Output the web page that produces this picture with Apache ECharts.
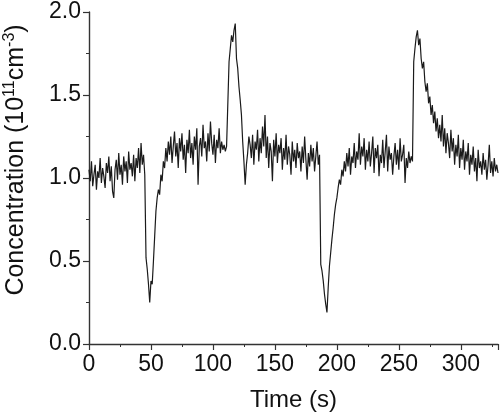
<!DOCTYPE html>
<html>
<head>
<meta charset="utf-8">
<script src="https://cdn.jsdelivr.net/npm/echarts@6/dist/echarts.min.js"></script>
<style>html,body{margin:0;padding:0;background:#fff}#c{width:500px;height:414px}</style>
</head>
<body>
<div id="c"></div>
<script>
// Sample interval of the trace (s)
var sampleStep = 1;
// Concentration (1e11 cm^-3), one value per second from t = 0 to 330 s
var concentration = [
  1.05, 0.98, 1.10, 0.95, 1.02, 1.08, 0.93, 1.04, 1.00, 1.12,
  0.97, 1.06, 1.01, 0.94, 1.09, 1.03, 1.13, 0.98, 1.07, 0.92,
  0.88, 1.05, 1.11, 0.99, 1.15, 1.02, 1.08, 0.96, 1.13, 1.04,
  1.10, 0.97, 1.16, 1.05, 1.09, 1.01, 1.14, 0.98, 1.12, 1.06,
  1.18, 1.03, 1.21, 1.08, 1.14, 1.02, 0.52, 0.45, 0.36, 0.25,
  0.38, 0.36, 0.50, 0.65, 0.80, 0.88, 0.93, 0.90, 1.02, 0.98,
  1.10, 1.06, 1.18, 1.10, 1.22, 1.14, 1.25, 1.09, 1.19, 1.28,
  1.13, 1.21, 1.06, 1.24, 1.16, 1.27, 1.11, 1.20, 1.03, 1.23,
  1.15, 1.29, 1.12, 1.21, 1.08, 1.25, 1.17, 1.30, 0.96, 1.19,
  1.24, 1.13, 1.32, 1.18, 1.22, 1.10, 1.27, 1.16, 1.34, 1.21,
  1.14, 1.26, 1.09, 1.23, 1.18, 1.30, 1.15, 1.22, 1.17, 1.20,
  1.16, 1.19, 1.18, 1.70, 1.78, 1.86, 1.82, 1.89, 1.93, 1.72,
  1.66, 1.55, 1.47, 1.38, 1.22, 1.10, 0.96, 1.08, 1.15, 1.25,
  1.20, 1.12, 1.26, 1.08, 1.22, 1.17, 1.29, 1.10, 1.24, 1.15,
  1.31, 1.19, 1.38, 1.12, 1.25, 1.06, 1.21, 1.16, 0.98, 1.23,
  1.13, 1.27, 1.09, 1.20, 1.15, 1.24, 1.05, 1.18, 1.11, 1.26,
  1.08, 1.19, 1.14, 1.02, 1.22, 1.10, 1.17, 1.06, 1.21, 1.12,
  1.16, 1.04, 1.19, 1.09, 1.25, 1.11, 0.99, 1.15, 1.07, 1.20,
  1.10, 1.18, 1.04, 1.13, 1.22, 1.08, 1.14, 0.48, 0.44, 0.38,
  0.30, 0.24, 0.19, 0.34, 0.47, 0.55, 0.63, 0.70, 0.78, 0.84,
  0.88, 0.94, 0.99, 0.96, 1.05, 1.01, 1.10, 1.04, 1.15, 1.07,
  1.18, 1.02, 1.13, 1.09, 1.21, 1.06, 1.16, 1.11, 1.27, 1.08,
  1.19, 1.13, 1.24, 1.05, 1.17, 1.10, 1.22, 1.07, 1.15, 1.25,
  1.03, 1.18, 1.12, 1.20, 1.01, 1.14, 1.09, 1.23, 1.06, 1.16,
  1.26, 1.04, 1.19, 1.11, 1.15, 1.02, 1.13, 1.21, 1.08, 1.17,
  1.05, 1.24, 1.10, 1.14, 1.20, 0.97, 1.12, 1.06, 1.16, 1.09,
  1.13, 1.10, 1.70, 1.78, 1.85, 1.89, 1.80, 1.84, 1.72, 1.66,
  1.70, 1.58, 1.52, 1.57, 1.45, 1.49, 1.38, 1.44, 1.33, 1.40,
  1.28, 1.36, 1.24, 1.32, 1.22, 1.38, 1.19, 1.30, 1.15, 1.27,
  1.21, 1.12, 1.29, 1.16, 1.24, 1.08, 1.20, 1.13, 1.26, 1.06,
  1.18, 1.11, 1.23, 1.05, 1.16, 1.10, 1.21, 1.02, 1.14, 1.08,
  1.19, 1.04, 1.12, 0.98, 1.17, 1.06, 1.10, 1.02, 1.15, 1.05,
  1.11, 0.99, 1.08, 1.20, 1.03, 1.10, 1.01, 1.12, 1.04, 1.08,
  1.03
];
var xTicks = [0, 50, 100, 150, 200, 250, 300];
var yTicks = [0.0, 0.5, 1.0, 1.5, 2.0];

var seriesData = concentration.map(function (v, i) { return [i * sampleStep, v]; });

var chart = echarts.init(document.getElementById('c'), null, {renderer: 'canvas'});
var font = 'Liberation Sans, Arial, sans-serif';
chart.setOption({
  animation: false,
  backgroundColor: '#fff',
  grid: {left: 89, right: 2, top: 12, bottom: 70, containLabel: false, outerBoundsMode: 'none'},
  xAxis: {
    type: 'value', min: 0, max: 330, interval: 50,
    name: 'Time (s)', nameLocation: 'middle', nameGap: 44,
    nameTextStyle: {fontFamily: font, fontSize: 24, color: '#111'},
    axisLine: {show: true, lineStyle: {color: '#333', width: 1.4}},
    axisTick: {show: true, inside: false, length: 6, lineStyle: {color: '#333', width: 1.2}},
    minorTick: {show: true, splitNumber: 2, length: 3, lineStyle: {color: '#333', width: 1}},
    splitLine: {show: false},
    axisLabel: {
      fontFamily: font, fontSize: 23, color: '#111', margin: 9,
      formatter: function (v) { return xTicks.indexOf(v) >= 0 ? String(v) : ''; }
    }
  },
  yAxis: {
    type: 'value', min: 0, max: 2, interval: 0.5,
    name: '{n|Concentration (10}{s|11}{n|cm}{s|-3}{n|)}',
    nameLocation: 'middle', nameGap: 58, nameRotate: 90,
    nameTextStyle: {
      fontFamily: font, fontSize: 25, color: '#111',
      padding: [0, 0, 0, 36],
      rich: {
        n: {fontFamily: font, fontSize: 25, color: '#111'},
        s: {fontFamily: font, fontSize: 16, color: '#111', verticalAlign: 'top', padding: [0, 0, 13, 0]}
      }
    },
    axisLine: {show: true, lineStyle: {color: '#333', width: 1.4}},
    axisTick: {show: true, inside: false, length: 6, lineStyle: {color: '#333', width: 1.2}},
    minorTick: {show: true, splitNumber: 2, length: 3, lineStyle: {color: '#333', width: 1}},
    splitLine: {show: false},
    axisLabel: {
      fontFamily: font, fontSize: 23, color: '#111', margin: 8,
      formatter: function (v) { return yTicks.indexOf(v) >= 0 ? v.toFixed(1) : ''; }
    }
  },
  series: [{
    type: 'line', data: seriesData, showSymbol: false, symbol: 'none',
    lineStyle: {color: '#1a1a1a', width: 1.2},
    silent: true
  }]
});
</script>
</body>
</html>
